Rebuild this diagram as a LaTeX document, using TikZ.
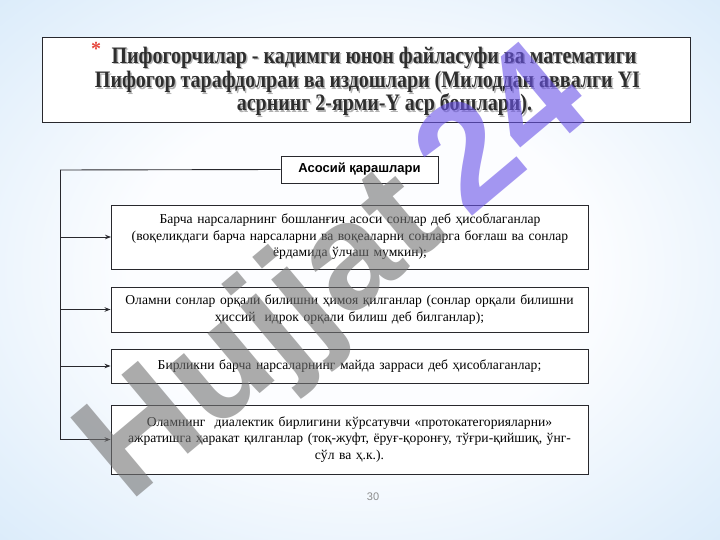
\documentclass[tikz,border=0pt]{standalone}
\usepackage{fontspec}
\setmainfont{Liberation Serif}
\newfontfamily\arialfont{Liberation Sans}
\usetikzlibrary{arrows.meta}
\definecolor{bgin}{RGB}{252,253,255}
\definecolor{bgmid}{RGB}{212,232,249}
\definecolor{bgout}{RGB}{148,199,240}
\pgfdeclareradialshading{bgshade}{\pgfpoint{0bp}{0bp}}{color(0bp)=(bgin); color(16bp)=(bgin); color(40bp)=(bgmid); color(72bp)=(bgout)}
\definecolor{lineclr}{RGB}{40,40,45}
\definecolor{wmgray}{RGB}{115,115,115}
\definecolor{wmpurple}{RGB}{105,82,232}
\definecolor{starred}{RGB}{230,70,60}
\definecolor{numgray}{RGB}{140,140,140}
\newcommand{\tallt}[1]{\scalebox{1}[1.18]{#1}}
\begin{document}
\begin{tikzpicture}[x=1pt,y=-1pt,
  titleline/.style={font=\bfseries\fontsize{20}{22}\selectfont, text=black!82, inner sep=0pt, anchor=base},
  titleshadow/.style={titleline, text=black!30},
  infobox/.style={draw=lineclr, line width=0.9pt, fill=white, minimum width=477pt, text width=477pt, align=center, font=\fontsize{13.6}{16.5}\selectfont, inner sep=0pt},
  headbox/.style={draw=lineclr, line width=0.9pt, fill=white, minimum width=157pt, minimum height=27pt, font=\arialfont\bfseries\fontsize{13}{15}\selectfont, inner sep=0pt},
  conn/.style={draw=lineclr, line width=0.9pt},
  tip/.style={-{Stealth[length=6pt,width=4.5pt]}}
]
\useasboundingbox (0,0) rectangle (720,540);
\shade[shading=bgshade] (0,0) rectangle (720,540);

% title
\node[draw=lineclr, line width=0.9pt, fill=white, minimum width=648pt, minimum height=85pt, inner sep=0pt] (titlebox) at (366,79.5) {};
\node[text=starred, font=\bfseries\fontsize{20}{20}\selectfont, inner sep=0pt] (star) at (96,49) {*};
\node[titleshadow] (t1s) at (375.5,65) {\tallt{Пифогорчилар - кадимги юнон файласуфи ва математиги}};
\node[titleshadow] (t2s) at (369,89.5) {\tallt{Пифогор тарафдолраи ва издошлари (Милоддан аввалги YI}};
\node[titleshadow] (t3s) at (386,112.5) {\tallt{асрнинг 2-ярми-Y аср бошлари).}};
\node[titleline] (t1) at (374,63.5) {\tallt{Пифогорчилар - кадимги юнон файласуфи ва математиги}};
\node[titleline] (t2) at (367.5,88) {\tallt{Пифогор тарафдолраи ва издошлари (Милоддан аввалги YI}};
\node[titleline] (t3) at (384.5,111) {\tallt{асрнинг 2-ярми-Y аср бошлари).}};

% head box
\node[headbox] (head) at (359.5,169.5) {Асосий қарашлари};

% info boxes
\node[infobox, minimum height=64pt] (b1) at (350,237) {Барча нарсаларнинг бошланғич асоси сонлар деб ҳисоблаганлар\\(воқеликдаги барча нарсаларни ва воқеаларни сонларга боғлаш ва сонлар\\ёрдамида ўлчаш мумкин);};
\node[infobox, minimum height=45pt] (b2) at (349.5,309.5) {Оламни сонлар орқали билишни ҳимоя қилганлар (сонлар орқали билишни\\ҳиссий\ \ идрок орқали билиш деб билганлар);};
\node[infobox, minimum height=34pt] (b3) at (349.5,366) {Бирликни барча нарсаларнинг майда зарраси деб ҳисоблаганлар;};
\node[infobox, minimum height=69pt] (b4) at (349.5,439.5) {Оламнинг\ \ диалектик бирлигини кўрсатувчи «протокатегорияларни»\\ажратишга ҳаракат қилганлар (тоқ-жуфт, ёруғ-қоронғу, тўғри-қийшиқ, ўнг-\\сўл ва ҳ.к.).};

% connectors
\coordinate (trunk) at (60,170);
\draw[conn] (head.west) -- (trunk);
\draw[conn,tip] (trunk) |- (b4.west);
\draw[conn,tip] (trunk |- b1.west) -- (b1.west);
\draw[conn,tip] (trunk |- b2.west) -- (b2.west);
\draw[conn,tip] (trunk |- b3.west) -- (b3.west);

% page number
\node[font=\arialfont\fontsize{11}{13}\selectfont, text=numgray] (pnum) at (373,497) {30};

% watermark
\node[rotate=40, text opacity=0.6, font=\arialfont\bfseries\fontsize{150}{150}\selectfont, inner sep=0pt] (wm) at (338,278) {\textcolor{wmgray}{Hujjat}\,\textcolor{wmpurple}{24}};
\end{tikzpicture}
\end{document}
